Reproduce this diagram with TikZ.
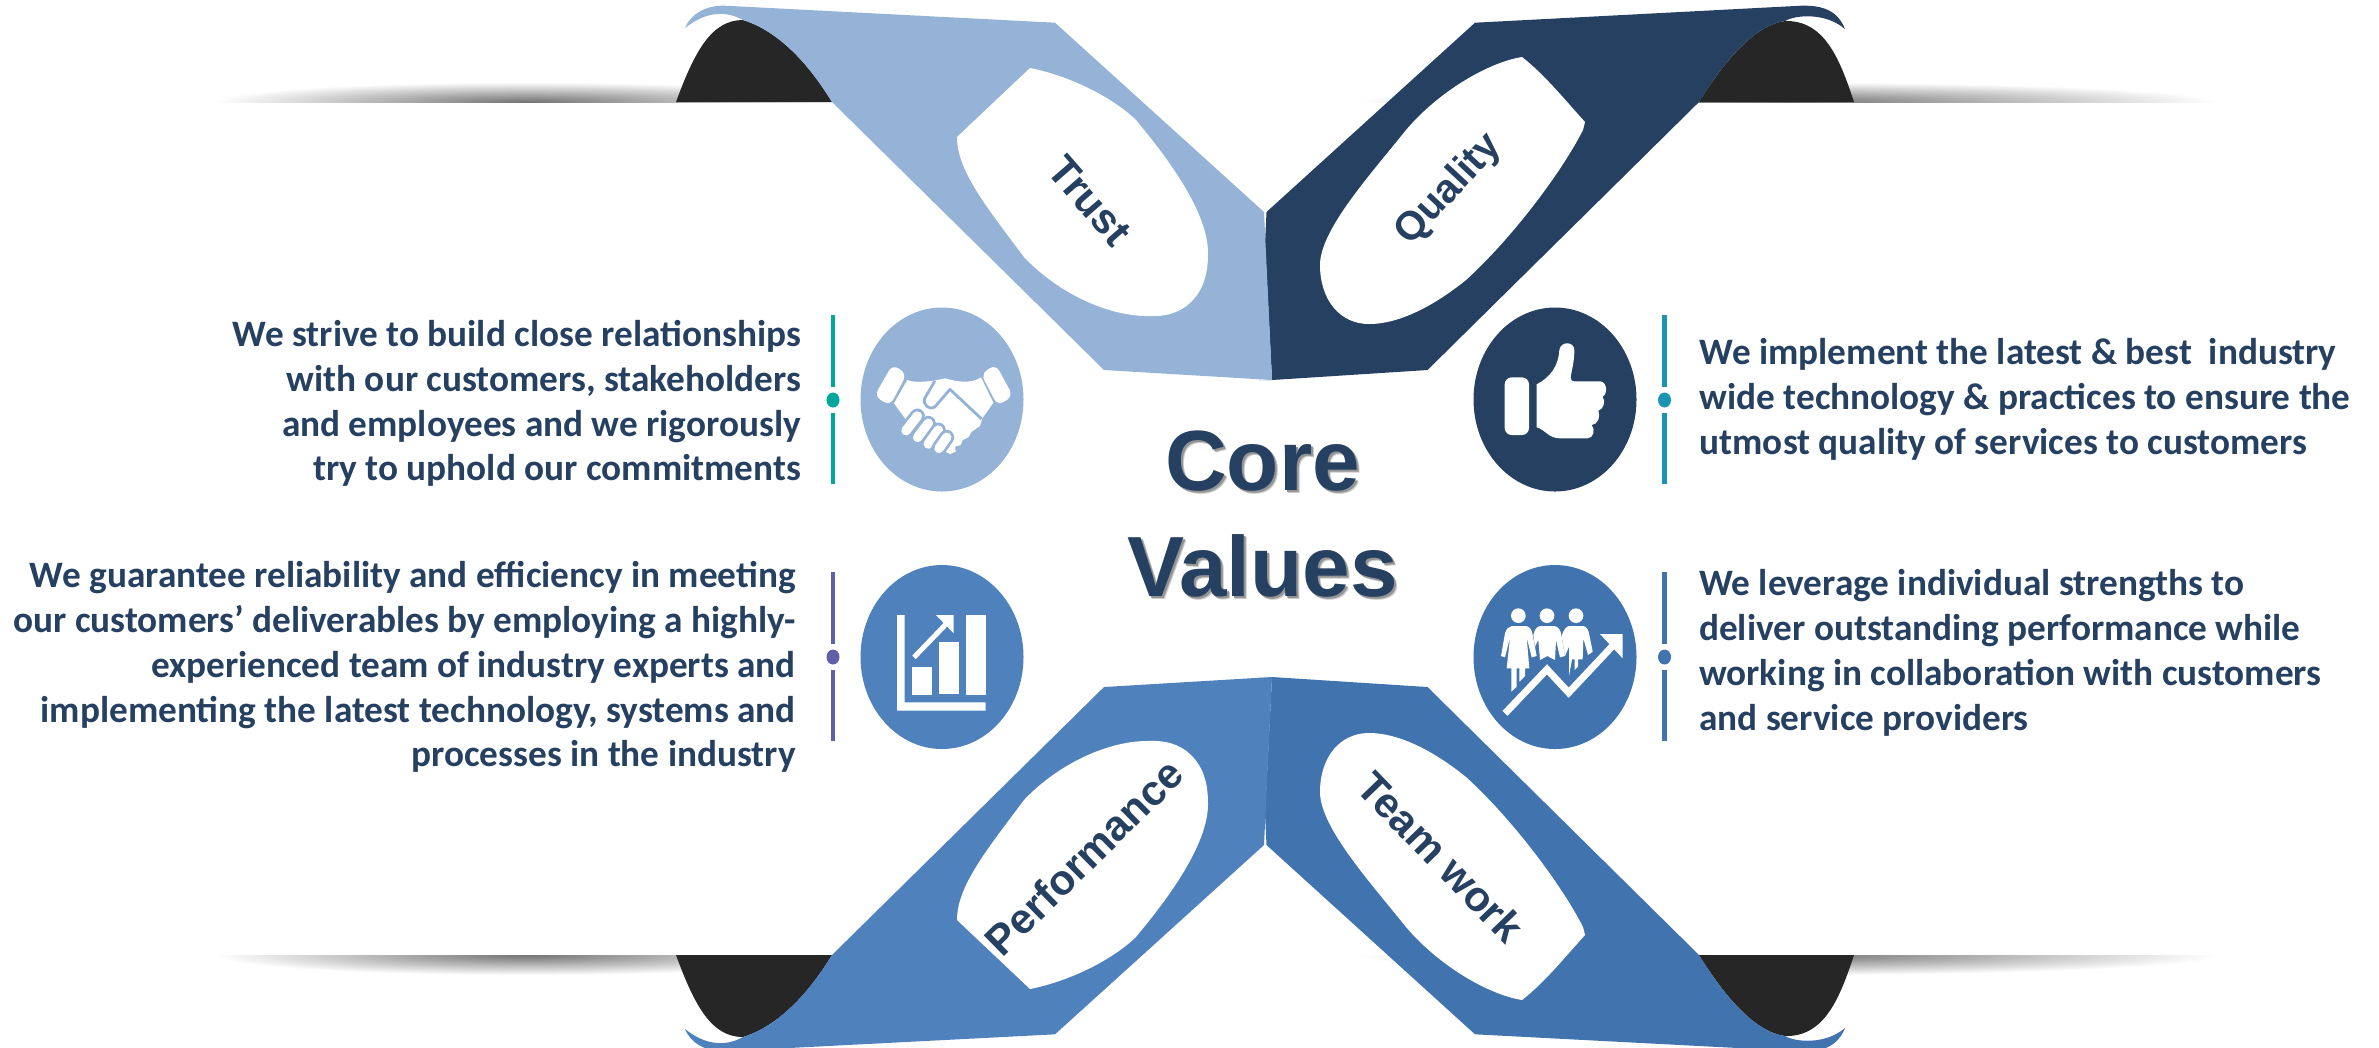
\documentclass[tikz,border=0pt]{standalone}
\usepackage{fontspec}
\setmainfont{Carlito}
\newfontfamily\arialf{Liberation Sans}
\definecolor{trustc}{HTML}{95B3D7}
\definecolor{qualc}{HTML}{254061}
\definecolor{perfc}{HTML}{4F81BD}
\definecolor{teamc}{HTML}{4173AE}
\definecolor{blackc}{HTML}{262626}
\definecolor{txtc}{HTML}{254061}
\definecolor{tealc}{HTML}{00A79D}
\definecolor{cyanc}{HTML}{1A94B0}
\definecolor{purpc}{HTML}{6060A8}
\newcommand{\shadowL}{%
  \begin{scope}
    \clip (100,60) rectangle (1300,102);
    \shade[inner color=black!55,outer color=white] (527,102) ellipse [x radius=312,y radius=20];
  \end{scope}}
\newcommand{\shadowR}{%
  \begin{scope}
    \clip (1300,60) rectangle (2300,102);
    \shade[inner color=black!55,outer color=white] (1788,102) ellipse [x radius=430,y radius=20];
  \end{scope}}
\newcommand{\leftband}[1]{%
  \fill[blackc] (676,102) .. controls (695,50) and (712,20) .. (743,20)
     .. controls (775,30) and (805,58) .. (832,102) -- cycle;
  \fill[#1] (685,28) .. controls (690,15) and (705,5) .. (725,5.7)
     -- (1055,22.7) -- (1264,212) -- (1272,380) -- (1104,370) -- (832,102)
     .. controls (805,58) and (775,30) .. (743,20)
     .. controls (725,10) and (705,12) .. (685,28) -- cycle;
  \fill[white] (1030,68) .. controls (1070,76) and (1112,97) .. (1136,120)
     .. controls (1152,140) and (1208,205) .. (1208,253)
     .. controls (1208,275) and (1203,290) .. (1191,302)
     .. controls (1180,313) and (1165,317) .. (1147,316)
     .. controls (1110,316) and (1060,295) .. (1024,257)
     .. controls (985,205) and (957,170) .. (957,137) -- cycle;}
\newcommand{\rightband}[1]{%
  \fill[blackc] (1699,102) .. controls (1725,60) and (1755,25) .. (1785,21)
     .. controls (1825,20) and (1840,60) .. (1854,102) -- cycle;
  \fill[#1] (1475,22.7) -- (1801,5.7) .. controls (1825,5) and (1838,12) .. (1845,29)
     .. controls (1825,12) and (1795,15) .. (1785,21)
     .. controls (1755,25) and (1725,60) .. (1699,102)
     -- (1427.5,370) -- (1272,380) -- (1258.5,380) -- (1272,380) -- (1265,243) -- (1266.5,212) -- cycle;
  \fill[white] (1522,57) .. controls (1490,62) and (1440,90) .. (1406,130)
     .. controls (1370,175) and (1320,230) .. (1320,265)
     .. controls (1320,300) and (1340,324) .. (1369,324)
     .. controls (1400,324) and (1435,305) .. (1466,280)
     .. controls (1510,240) and (1560,175) .. (1583,130) -- (1585,122)
     .. controls (1565,100) and (1545,75) .. (1522,57) -- cycle;}
\tikzset{
  body/.style={font=\bfseries\fontsize{10.6}{12.75}\selectfont,text=txtc,inner sep=0pt},
  bandlabel/.style={font=\arialf\bfseries\fontsize{#1}{13}\selectfont,text=txtc,inner sep=0pt},
  corelabel/.style={font=\arialf\bfseries\fontsize{24.3}{29.5}\selectfont,inner sep=0pt,align=center},
  iconpart/.style={fill=white,draw=none}
}
\begin{document}
\begin{tikzpicture}[x=0.01cm,y=-0.01cm]
\clip (0,0) rectangle (2379,1047);
\fill[white] (0,0) rectangle (2379,1047);
% shadows
\shadowL
\shadowR
\begin{scope}[shift={(0,1057)},yscale=-1]
  \shadowL
  \shadowR
\end{scope}
% bands
\rightband{qualc}
\leftband{trustc}
\begin{scope}[shift={(0,1057)},yscale=-1]
  \rightband{teamc}
  \leftband{perfc}
\end{scope}
% band labels
\node[bandlabel=11.9,rotate=-49] (ltrust) at (1090,201) {Trust};
\node[bandlabel=11.4,rotate=47] (lqual) at (1449,190) {Quality};
\node[bandlabel=12,rotate=44.5] (lperf) at (1084,857) {Performance};
\node[bandlabel=12,rotate=-46] (lteam) at (1441,857) {Team work};
% circles
\fill[trustc] (942,399.5) ellipse [x radius=81.5,y radius=92];
\fill[qualc] (1555,399.5) ellipse [x radius=81.5,y radius=92];
\fill[perfc] (942,657) ellipse [x radius=81.5,y radius=92];
\fill[teamc] (1555,657) ellipse [x radius=81.5,y radius=92];
% side rules
\foreach \cx/\cy/\col in {833/400/tealc,1664.5/400/cyanc,833/657/purpc,1664.5/657/teamc}{
  \fill[\col] (\cx-2.2,\cy-85) rectangle (\cx+2.2,\cy-13);
  \fill[\col] (\cx-2.2,\cy+13) rectangle (\cx+2.2,\cy+84);
  \fill[\col] (\cx,\cy) ellipse [x radius=6.5,y radius=7.5];
}
% handshake icon
\begin{scope}[shift={(830,290)},scale=0.33333]
  \fill[white,rounded corners=2pt] (188,223) -- (230,252) -- (180,347) -- (133,318) -- cycle;
  \fill[white,rounded corners=2pt] (497,223) -- (453,252) -- (503,347) -- (549,318) -- cycle;
  \fill[white] (232,270) .. controls (250,278) and (290,278) .. (345,265)
    .. controls (370,272) and (420,285) .. (453,262) -- (490,338) -- (457,385)
    -- (450,408) -- (425,425) -- (415,442) -- (398,450) -- (392,465) -- (375,470) -- (377,485) -- (360,492)
    -- (300,460) -- (235,415) -- (225,385) -- (192,340) -- cycle;
  \draw[trustc,line width=0.028cm,line join=round,fill=white] (315,272) -- (284,325)
    .. controls (278,345) and (298,362) .. (315,350) -- (360,298) -- (455,387);
  \foreach \xa/\ya/\xb/\yb in {262/378/228/422,295/400/263/442,325/420/295/462,350/442/327/475}{
    \draw[trustc,line width=0.15cm,line cap=round] (\xa,\ya) -- (\xb,\yb);
    \draw[white,line width=0.095cm,line cap=round] (\xa,\ya) -- (\xb,\yb);
  }
\end{scope}
% thumb icon
\begin{scope}[shift={(1450,290)},scale=0.33333]
  \fill[white,rounded corners=2pt] (164,262) -- (237,262) -- (237,435) -- (164,435) -- cycle;
  \fill[white] (260,283) .. controls (300,262) and (325,230) .. (328,180)
    .. controls (332,153) and (372,153) .. (373,180)
    .. controls (373,215) and (365,240) .. (362,262)
    .. controls (362,270) and (365,274) .. (372,274) -- (450,274)
    .. controls (470,274) and (475,310) .. (458,320)
    .. controls (468,335) and (460,358) .. (445,362)
    .. controls (452,378) and (445,403) .. (425,405)
    .. controls (437,420) and (430,445) .. (412,445) -- (330,445)
    .. controls (295,445) and (285,418) .. (260,412) -- cycle;
\end{scope}
% chart icon
\begin{scope}[shift={(830,550)},scale=0.33333]
  \fill[white] (201,195) -- (224,195) -- (224,457) -- (467,457) -- (467,482) -- (201,482) -- cycle;
  \fill[white] (246,351) rectangle (306,435);
  \fill[white] (327,276) rectangle (387,432);
  \fill[white] (408,195) rectangle (468,435);
  \draw[white,line width=0.05cm] (252,322) -- (356,214);
  \fill[white] (318,195) -- (371,195) -- (371,250) -- cycle;
\end{scope}
% team icon
\begin{scope}[shift={(1450,550)},scale=0.33333]
  \foreach \hx in {205,291,378}{\fill[white] (\hx,197) circle (22);}
  \fill[white] (185,228) -- (228,228) .. controls (240,230) and (246,240) .. (248,255)
     -- (260,318) -- (245,322) -- (230,262) -- (238,355) -- (225,355) -- (225,378) -- (208,395) -- (208,355)
     -- (200,355) -- (200,410) -- (184,425) -- (184,355) -- (170,355) -- (180,262) -- (165,322) -- (153,318)
     -- (165,250) .. controls (168,238) and (175,230) .. (185,228) -- cycle;
  \fill[white] (270,228) -- (313,228) .. controls (325,230) and (332,240) .. (334,255)
     -- (345,318) -- (330,322) -- (318,270) -- (315,330) -- (292,318) -- (270,330) -- (265,270) -- (255,290)
     -- (250,255) .. controls (253,240) and (260,230) .. (270,228) -- cycle;
  \fill[white] (357,228) -- (400,228) .. controls (410,230) and (416,240) .. (418,255)
     -- (428,305) -- (414,315) -- (400,265) -- (398,328) -- (384,328) -- (384,350) -- (374,360) -- (374,328)
     -- (366,328) -- (357,378) -- (357,290) -- (345,318) -- (335,258) .. controls (340,240) and (348,230) .. (357,228) -- cycle;
  \draw[teamc,line width=0.115cm] (165,490) -- (291,358) -- (356,428) -- (490,285);
  \draw[white,line width=0.07cm,line cap=butt] (165,490) -- (291,358) -- (356,428) -- (495,280);
  \fill[white] (450,252) -- (518,252) -- (518,325) -- cycle;
\end{scope}
% body text
\node[body,align=right,anchor=east] (ttrust) at (801.5,403.5) {We strive to build close relationships\\with our customers, stakeholders\\and employees and we rigorously\\try to uphold our commitments};
\node[body,align=right,anchor=east] (tperf) at (796.5,667) {We guarantee reliability and efficiency in meeting\\our customers’ deliverables by employing a highly-\\experienced team of industry experts and\\implementing the latest technology, systems and\\processes in the industry};
\node[body,align=left,anchor=west] (tqual) at (1699,399) {We implement the latest \& best\ \ industry\\wide technology \& practices to ensure the\\utmost quality of services to customers};
\node[body,align=left,anchor=west] (tteam) at (1698.5,653) {We leverage individual strengths to\\deliver outstanding performance while\\working in collaboration with customers\\and service providers};
% title with soft shadow
\node[corelabel,text=black!20,anchor=center] (coreshadow) at (1265.5,517) {Core\\[0.55pt]Values};
\node[corelabel,text=black!42,anchor=center] (coreshadowb) at (1264.5,516) {Core\\[0.55pt]Values};
\node[corelabel,text=txtc,anchor=center] (core) at (1262.5,514) {Core\\[0.55pt]Values};
\end{tikzpicture}
\end{document}
